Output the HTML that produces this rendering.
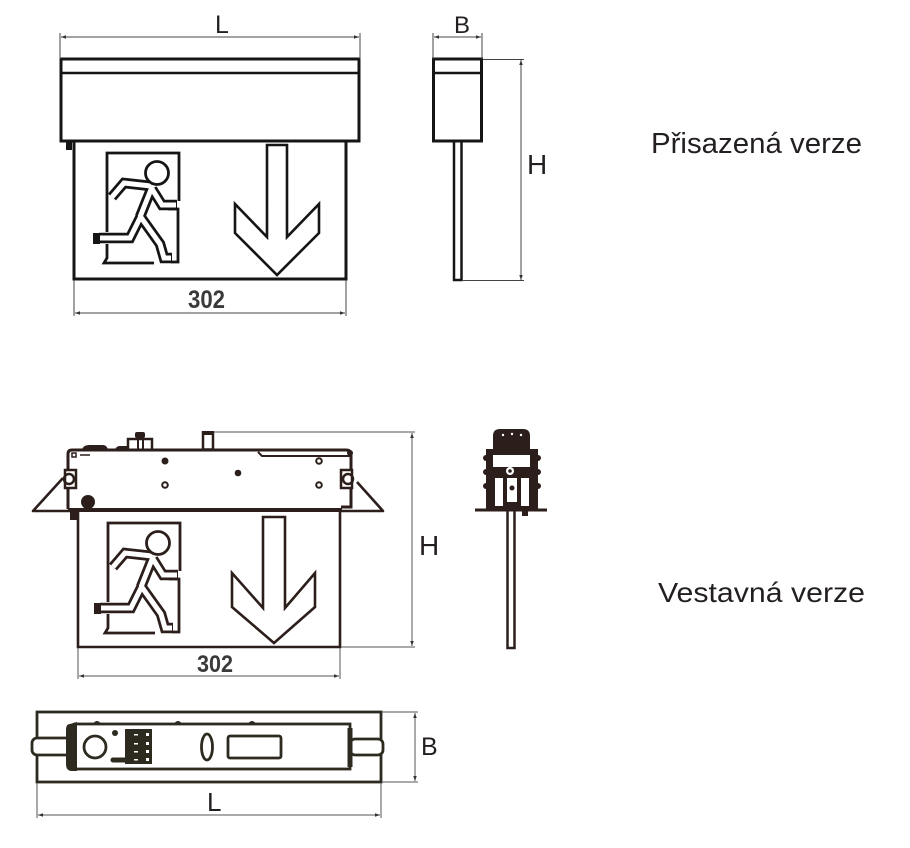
<!DOCTYPE html>
<html><head><meta charset="utf-8"><style>
html,body{margin:0;padding:0;background:#fff;}
svg{display:block;}
text{font-family:"Liberation Sans",sans-serif;fill:#231f20;}
</style></head><body>
<svg width="910" height="848" viewBox="0 0 910 848" xmlns="http://www.w3.org/2000/svg">
<defs>
<marker id="ar" viewBox="0 0 10 10" refX="10" refY="5" markerWidth="5" markerHeight="5" orient="auto-start-reverse"><path d="M0,1.5 L10,5 L0,8.5 z" fill="#333"/></marker>
<g id="man">
  <g fill="none" stroke-linejoin="miter" stroke-linecap="butt">
    <path d="M107,232 V153 H179 V201" stroke="currentColor" stroke-width="2.8"/>
    <path d="M168,209 H178 V262 H171" stroke="currentColor" stroke-width="2.8"/>
    <path d="M107,244 V258 L104,263 H154" stroke="currentColor" stroke-width="2.8"/>
    <g stroke="currentColor" stroke-width="10.5">
      <path d="M152,187 L140,217"/>
      <path d="M151,186 L124,183 L112,197"/>
      <path d="M152,189 L162,205 L177,205"/>
      <path d="M141,216 L130,238 L99,238"/>
      <path d="M140,216 L160,244 L164,258 L172,258"/>
    </g>
    <g stroke="#fff" stroke-width="5">
      <path d="M152,187 L140,217"/>
      <path d="M151,186 L124,183 L112,197"/>
      <path d="M152,189 L162,205 L176,205"/>
      <path d="M141,216 L130,238 L100,238"/>
      <path d="M140,216 L160,244 L164,258 L171,258"/>
    </g>
  </g>
  <rect x="93" y="233" width="7" height="11" fill="currentColor"/>
  <circle cx="157" cy="173" r="11.5" fill="#fff" stroke="currentColor" stroke-width="2.8"/>
</g>
</defs>

<!-- ===== TOP FRONT VIEW ===== -->
<g color="#151515">
  <rect x="61" y="59" width="298" height="82" fill="none" stroke="#151515" stroke-width="3"/>
  <line x1="61" y1="73" x2="359" y2="73" stroke="#151515" stroke-width="2.5"/>
  <rect x="74" y="141" width="272" height="138" fill="none" stroke="#151515" stroke-width="3"/>
  <rect x="66" y="141" width="6" height="9" fill="#151515"/>
  <use href="#man"/>
  <polygon points="267,145 287,145 287,237 319,204 319,233 277,275 235,233 235,204 267,237" fill="none" stroke="#151515" stroke-width="2.6"/>
</g>
<!-- dims top -->
<g stroke="#444" stroke-width="1" fill="none">
  <line x1="60" y1="33" x2="60" y2="59"/>
  <line x1="360" y1="33" x2="360" y2="59"/>
  <line x1="61" y1="37" x2="359" y2="37" marker-start="url(#ar)" marker-end="url(#ar)"/>
  <line x1="74" y1="280" x2="74" y2="316"/>
  <line x1="346" y1="280" x2="346" y2="316"/>
  <line x1="75" y1="313" x2="345" y2="313" marker-start="url(#ar)" marker-end="url(#ar)"/>
</g>
<text x="215" y="33" font-size="25">L</text>
<text x="188" y="308" font-size="25" font-weight="bold" textLength="37" lengthAdjust="spacingAndGlyphs" style="fill:#3a3a3a">302</text>

<!-- ===== TOP SIDE VIEW ===== -->
<rect x="433.5" y="59" width="48" height="82" fill="none" stroke="#151515" stroke-width="3"/>
<line x1="433" y1="73" x2="482" y2="73" stroke="#151515" stroke-width="2.5"/>
<rect x="454" y="141" width="7.5" height="139" fill="none" stroke="#151515" stroke-width="2.5"/>
<g stroke="#444" stroke-width="1" fill="none">
  <line x1="433" y1="33" x2="433" y2="59"/>
  <line x1="482" y1="33" x2="482" y2="59"/>
  <line x1="434" y1="37" x2="481" y2="37" marker-start="url(#ar)" marker-end="url(#ar)"/>
  <line x1="483" y1="59.5" x2="524" y2="59.5"/>
  <line x1="463" y1="280.5" x2="524" y2="280.5"/>
  <line x1="521" y1="60" x2="521" y2="280" marker-start="url(#ar)" marker-end="url(#ar)"/>
</g>
<text x="454" y="33" font-size="24">B</text>
<text x="527" y="174" font-size="28">H</text>
<text x="651" y="153" font-size="29" textLength="211" lengthAdjust="spacingAndGlyphs">Přisazená verze</text>

<!-- ===== BOTTOM FRONT VIEW ===== -->
<g color="#2b1e1b">
  <path d="M63,478 L33,511 H70" fill="none" stroke="#2b1e1b" stroke-width="2.6" stroke-linejoin="round"/>
  <path d="M357,482 L383,511 H341" fill="none" stroke="#2b1e1b" stroke-width="2.6" stroke-linejoin="round"/>
  <path d="M68,509 V454 Q68,450 72,450 H346 Q351,450 351,455 V507 H341" fill="none" stroke="#2b1e1b" stroke-width="3"/>
  <path d="M258,452 L262,456 H350" fill="none" stroke="#2b1e1b" stroke-width="2"/>
  <line x1="68" y1="510" x2="342" y2="510" stroke="#2b1e1b" stroke-width="4"/>
  <rect x="72" y="453" width="4" height="4" fill="none" stroke="#2b1e1b" stroke-width="1.5"/>
  <line x1="80" y1="455" x2="90" y2="455" stroke="#2b1e1b" stroke-width="1.5"/>
  <path d="M82,450 Q83,445 89,445 H103 Q107,445 108,450 Z" fill="#2b1e1b"/>
  <path d="M115,450 Q116,446 120,446 H127 V450 Z" fill="#2b1e1b"/>
  <rect x="128" y="439" width="24" height="11" fill="none" stroke="#2b1e1b" stroke-width="2.5"/>
  <line x1="138" y1="439" x2="138" y2="450" stroke="#2b1e1b" stroke-width="2"/>
  <line x1="143" y1="439" x2="143" y2="450" stroke="#2b1e1b" stroke-width="2"/>
  <rect x="135" y="432" width="10" height="6" rx="2" fill="#2b1e1b"/>
  <rect x="203" y="432.5" width="10" height="17" fill="#fff" stroke="#2b1e1b" stroke-width="2.5"/>
  <rect x="202" y="431" width="12" height="4" fill="#2b1e1b"/>
  <circle cx="165" cy="461" r="3.5" fill="#2b1e1b"/>
  <circle cx="165" cy="485" r="2.8" fill="none" stroke="#2b1e1b" stroke-width="2"/>
  <circle cx="238" cy="473" r="3.3" fill="#2b1e1b"/>
  <circle cx="319" cy="461" r="2.8" fill="none" stroke="#2b1e1b" stroke-width="2"/>
  <circle cx="319" cy="485" r="2.8" fill="none" stroke="#2b1e1b" stroke-width="2"/>
  <circle cx="88" cy="502" r="7" fill="#2b1e1b"/>
  <rect x="65" y="470" width="11" height="18" fill="#fff" stroke="#2b1e1b" stroke-width="2.5"/>
  <circle cx="69" cy="479" r="5" fill="none" stroke="#2b1e1b" stroke-width="2.5"/>
  <rect x="341" y="470" width="11" height="18" fill="#fff" stroke="#2b1e1b" stroke-width="2.5"/>
  <circle cx="348" cy="479" r="5" fill="none" stroke="#2b1e1b" stroke-width="2.5"/>
  <circle cx="350" cy="453" r="3" fill="#2b1e1b"/>
  <rect x="70" y="510" width="7" height="10" fill="#2b1e1b"/>
  <path d="M78,511 V647 H340 V511" fill="none" stroke="#2b1e1b" stroke-width="2.6"/>
  <use href="#man" transform="translate(1,370)"/>
  <polygon points="263,517 285,517 285,608 315,573 315,607 274,643 232,607 232,573 263,608" fill="none" stroke="#2b1e1b" stroke-width="2.6"/>
</g>
<g stroke="#555" stroke-width="1" fill="none">
  <line x1="214" y1="432" x2="415" y2="432"/>
  <line x1="341" y1="647" x2="415" y2="647"/>
  <line x1="412" y1="433" x2="412" y2="646" marker-start="url(#ar)" marker-end="url(#ar)"/>
  <line x1="78" y1="648" x2="78" y2="679"/>
  <line x1="340" y1="648" x2="340" y2="679"/>
  <line x1="79" y1="676" x2="339" y2="676" marker-start="url(#ar)" marker-end="url(#ar)"/>
</g>
<text x="419" y="555" font-size="28">H</text>
<text x="197" y="672" font-size="24" font-weight="bold" textLength="36" lengthAdjust="spacingAndGlyphs" style="fill:#3a3a3a">302</text>
<text x="658" y="602" font-size="28" textLength="207" lengthAdjust="spacingAndGlyphs">Vestavná verze</text>

<!-- ===== BOTTOM SIDE VIEW ===== -->
<g fill="#2b1e1b">
  <rect x="507.5" y="510" width="7" height="138" fill="none" stroke="#2b1e1b" stroke-width="2.5"/>
  <line x1="475" y1="510" x2="547" y2="510" stroke="#2b1e1b" stroke-width="3"/>
  <path d="M493,451 V436 Q493,429 500,429 H523 Q530,429 530,436 V451 Z"/>
  <circle cx="503" cy="435" r="1.2" fill="#fff"/><circle cx="512" cy="434" r="1.2" fill="#fff"/><circle cx="521" cy="435" r="1.2" fill="#fff"/>
  <!-- body -->
  <rect x="486" y="449" width="52" height="61"/>
  <rect x="493" y="455" width="37" height="12" fill="#fff"/>
  <rect x="495" y="478" width="8" height="28" fill="#fff"/>
  <rect x="521" y="478" width="8" height="28" fill="#fff"/>
  <rect x="507" y="478" width="10" height="24" fill="#fff"/>
  <circle cx="510" cy="471" r="4" fill="#fff"/>
  <circle cx="510" cy="471" r="1.8"/>
  <circle cx="512" cy="488" r="2.5"/>
  <circle cx="486" cy="458" r="3"/><circle cx="486" cy="472" r="3"/><circle cx="486" cy="486" r="3"/>
  <circle cx="538" cy="458" r="3"/><circle cx="538" cy="472" r="3"/><circle cx="538" cy="486" r="3"/>
  <rect x="522" y="510" width="6" height="6"/>
</g>

<!-- ===== PLAN VIEW ===== -->
<g stroke="#2d2a20" fill="none">
  <rect x="37" y="712" width="344" height="70" stroke-width="2.8"/>
  <rect x="75" y="724" width="275" height="45" stroke-width="2.8"/>
  <rect x="32" y="738" width="43" height="17" rx="5" stroke-width="2.8" fill="#fff"/>
  <rect x="350" y="739" width="33" height="16" rx="5" stroke-width="2.8" fill="#fff"/>
  <path d="M70,724 Q66,724 66,730 V764 Q66,771 72,771 H77 V722 Z" fill="#2d2a20" stroke="none"/>
  <path d="M350,728 V767" stroke-width="5"/>
  <circle cx="95" cy="747" r="11" stroke-width="2.8"/>
  <circle cx="115" cy="733" r="3" fill="#2d2a20" stroke="none"/>
  <rect x="125" y="729" width="27" height="35" fill="#2d2a20" stroke="none"/>
  <g fill="#fff" stroke="none">
    <rect x="146" y="733" width="3" height="3"/><rect x="146" y="742" width="3" height="3"/>
    <rect x="146" y="750" width="3" height="3"/><rect x="146" y="758" width="3" height="3"/>
    <rect x="134" y="734" width="4" height="1.5"/><rect x="134" y="743" width="4" height="1.5"/>
    <rect x="134" y="751" width="4" height="1.5"/><rect x="134" y="759" width="4" height="1.5"/>
  </g>
  <line x1="113" y1="760" x2="127" y2="760" stroke-width="5" stroke-linecap="round"/>
  <ellipse cx="207" cy="747" rx="5.5" ry="13" stroke-width="2.8"/>
  <rect x="228" y="736" width="53" height="22" rx="2" stroke-width="2.8"/>
  <path d="M94,724 Q97,720 100,724 M175,724 Q178,720 181,724 M249,724 Q252,720 255,724" stroke-width="2"/>
</g>
<g stroke="#555" stroke-width="1" fill="none">
  <line x1="382" y1="712" x2="418" y2="712"/>
  <line x1="382" y1="782" x2="418" y2="782"/>
  <line x1="415" y1="713" x2="415" y2="781" marker-start="url(#ar)" marker-end="url(#ar)"/>
  <line x1="37" y1="783" x2="37" y2="818"/>
  <line x1="381" y1="783" x2="381" y2="818"/>
  <line x1="38" y1="815" x2="380" y2="815" marker-start="url(#ar)" marker-end="url(#ar)"/>
</g>
<text x="421" y="755" font-size="25">B</text>
<text x="207" y="811" font-size="26">L</text>
</svg>
</body></html>
